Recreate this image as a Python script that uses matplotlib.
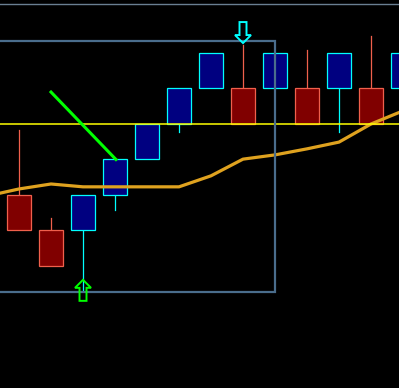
import matplotlib

matplotlib.use("Agg")
import matplotlib.pyplot as plt
import matplotlib.transforms as mtransforms
from matplotlib.patches import Polygon, Rectangle

# candle data (price in box units, 0 = yellow level line)
opens = [-2, -3, -3, -2, -1, 0, 1, 1, 1, 1, 1, 1, 1]
closes = [-3, -4, -2, -1, 0, 1, 2, 0, 2, 0, 2, 0, 2]
highs = [-0.17, -2.65, -2, -1, 0, 1, 2, 2.23, 2, 2.08, 2, 2.48, 2]
lows = [-3, -4, -4.68, -2.42, -1, -0.23, 1, 0, 1, 0, -0.23, 0, 1]

# moving average, starting one bar before the first visible candle
ma_x = list(range(-1, 13))
ma_vals = [-2.03, -1.83, -1.69, -1.77, -1.77, -1.77, -1.77, -1.46, -0.99,
           -0.87, -0.70, -0.51, 0.0, 0.37]

level = 0.0
top_line = 3.38
trend_x = [1.0, 3.03]
trend_y = [0.90, -1.0]
box_x = (-2.0, 8.0)
box_y = (-4.72, 2.35)
sell_bar = 7
buy_bar = 2

UP_FACE, UP_EDGE = "#000080", "#00ffff"
DN_FACE, DN_EDGE = "#800000", "#f0604c"

fig = plt.figure(figsize=(3.99, 3.88), dpi=100, facecolor="black")
ax = fig.add_axes([0, 0, 1, 1])
ax.set_facecolor("black")
ax.set_xlim(-0.594, 11.875)
ax.set_ylim(-7.437, 3.493)
ax.axis("off")

ax.axhline(top_line, color="#6a7f92", lw=1.0, zorder=1)

ax.plot(ma_x, ma_vals, color="#dfa21f", lw=2.3, zorder=4)

w = 0.75
for i, (o, h, l, c) in enumerate(zip(opens, highs, lows, closes)):
    up = c > o
    face, edge = (UP_FACE, UP_EDGE) if up else (DN_FACE, DN_EDGE)
    lo, hi = min(o, c), max(o, c)
    if h > hi:
        ax.plot([i, i], [hi, h], color=edge, lw=0.9, zorder=2)
    if l < lo:
        ax.plot([i, i], [l, lo], color=edge, lw=0.9, zorder=2)
    ax.add_patch(Rectangle((i - w / 2, lo), w, hi - lo, facecolor=face,
                           edgecolor=edge, lw=0.9, zorder=3))

ax.axhline(level, color="#ffff00", lw=1.1, zorder=5)

ax.plot(trend_x, trend_y, color="#00ff00", lw=2.2, zorder=6)

ax.add_patch(Rectangle((box_x[0], box_y[0]), box_x[1] - box_x[0],
                       box_y[1] - box_y[0], fill=False, edgecolor="#4a6d8c",
                       lw=1.6, zorder=7))

# hollow arrows, shape in pixels anchored at a candle's high / low
arrow_shape = [(0, 0), (-8, 8), (-3.5, 8), (-3.5, 21), (3.5, 21), (3.5, 8), (8, 8)]


def draw_arrow(x, y, color, down):
    px, py = ax.transData.transform((x, y))
    sign = 1 if down else -1
    verts = [(dx, sign * dy) for dx, dy in arrow_shape]
    tr = mtransforms.Affine2D().translate(px, py)
    ax.add_patch(Polygon(verts, closed=True, facecolor="none", edgecolor=color,
                         lw=1.4, transform=tr, zorder=8))


draw_arrow(sell_bar, highs[sell_bar] + 0.05, "#00ffff", down=True)
draw_arrow(buy_bar, lows[buy_bar] + 0.29, "#00ff00", down=False)

fig.savefig("out.png", dpi=100, facecolor="black")
